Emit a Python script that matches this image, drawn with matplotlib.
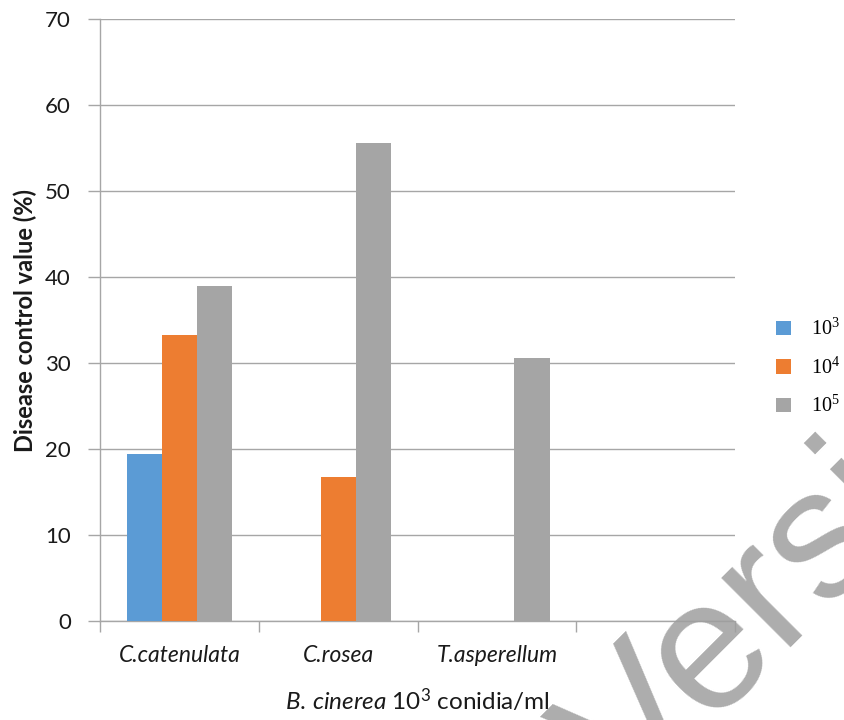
import matplotlib
matplotlib.use("Agg")
import matplotlib.pyplot as plt
import numpy as np

categories = ["C.catenulata", "C.rosea", "T.asperellum", ""]
series_labels = ["10^{3}", "10^{4}", "10^{5}"]
values_1e3 = [19.4, 0, 0, 0]
values_1e4 = [33.3, 16.7, 0, 0]
values_1e5 = [38.9, 55.6, 30.6, 0]
colors = ["#5B9BD5", "#ED7D31", "#A5A5A5"]
yticks = [0, 10, 20, 30, 40, 50, 60, 70]

plt.rcParams['mathtext.fontset'] = 'custom'
plt.rcParams['mathtext.rm'] = 'Lato'
plt.rcParams['mathtext.it'] = 'Lato:italic'

W, H = 844, 720
fig = plt.figure(figsize=(W / 100, H / 100), dpi=100)
ax = fig.add_axes([100 / W, 1 - 621 / H, 635 / W, 602 / H])

grid_c = "#A6A6A6"
x = np.arange(len(categories))
bw = 0.222
handles = []
for i, (vals, c) in enumerate(zip([values_1e3, values_1e4, values_1e5], colors)):
    b = ax.bar(x + (i - 1) * bw, vals, width=bw, color=c, zorder=3)
    handles.append(b)

ax.set_xlim(-0.5, len(categories) - 0.5)
ax.set_ylim(0, 70)
ax.set_yticks(yticks)
ax.set_yticklabels([str(v) for v in yticks], fontfamily="Lato", fontsize=16, color="#1a1a1a")
ax.yaxis.grid(True, color=grid_c, linewidth=1.0, zorder=0)
ax.set_axisbelow(True)

ax.set_xticks(x)
ax.set_xticklabels(categories, fontfamily="Lato", fontstyle="italic", fontsize=16.5, color="#1a1a1a")
ax.set_xticks(np.arange(-0.5, len(categories), 1.0), minor=True)
ax.tick_params(axis='x', which='major', length=0, pad=17)
ax.tick_params(axis='x', which='minor', length=8, width=1, color=grid_c, direction='out')
ax.tick_params(axis='y', which='major', length=9, width=1, color=grid_c, direction='out', pad=12)

for s in ["top", "right"]:
    ax.spines[s].set_visible(False)
for s in ["left", "bottom"]:
    ax.spines[s].set_color(grid_c)
    ax.spines[s].set_linewidth(1.0)

fig.text(25 / W, 1 - 320 / H, "Disease control value (%)", rotation=90,
         ha="center", va="center", fontfamily="Lato", fontweight="bold", fontsize=17, color="#1a1a1a")
fig.text(417 / W, 1 - 700 / H, r"$\mathit{B.\,cinerea}$ 10$^{3}$ conidia/ml",
         ha="center", va="center", fontfamily="Lato", fontsize=17.5, color="#1a1a1a")

leg = fig.legend(handles, [r"$\mathregular{%s}$" % s for s in series_labels],
                 loc="center left", bbox_to_anchor=(776 / W, 1 - 368 / H),
                 bbox_transform=fig.transFigure, frameon=False, borderpad=0, borderaxespad=0,
                 handlelength=0.72, handleheight=0.72, handletextpad=1.0, labelspacing=0.85,
                 prop={"family": "Liberation Serif", "size": 14.5})

# faint watermark
fig.text(630 / W, 1 - 808 / H, "Version", rotation=45, rotation_mode="anchor",
         ha="left", va="baseline", fontfamily="Liberation Sans",
         fontsize=133, color="#9e9e9e", alpha=0.85, zorder=10)

fig.savefig("out.png", dpi=100)
